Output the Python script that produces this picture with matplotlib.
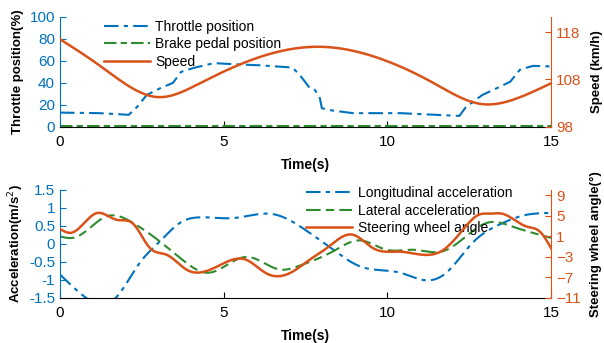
import numpy as np
import matplotlib.pyplot as plt

plt.rcParams['font.family'] = ['Liberation Sans', 'DejaVu Sans']

BLUE = '#0072BD'
ORANGE = '#D95319'
GREEN = '#2E8B2E'

# ---- top panel data ----
t_thr = [0, 1.2, 2.1, 2.35, 2.65, 3.05, 3.45, 3.7, 4.07, 4.7, 5.3, 6.1, 7.1, 7.33,
         7.64, 7.79, 7.94, 8.0, 8.3, 8.95, 10.4, 12.2, 12.4, 12.9, 13.4, 13.75,
         14.05, 14.45, 15]
throttle = [13, 12.5, 11, 18, 29, 35, 40, 50, 53.5, 58, 57, 56, 54, 47,
            35, 33.5, 26, 17, 15, 12.5, 12.5, 10, 18, 29, 36, 41,
            52, 55.5, 55]

t_brake = [0, 15]
brake = [1, 1]

t_spd = [0, 1.2, 2.2, 2.96, 4.3, 6.0, 7.95, 9.9, 11.4, 12.9, 13.95, 15]
speed = [116.5, 111, 106.2, 104.3, 107.3, 112.5, 114.9, 112.1, 107.3, 102.8, 104, 107.2]

# ---- bottom panel data ----
t_lon = [0, 0.8, 1.25, 1.7, 2.44, 3.05, 3.67, 4.28, 5.3, 6.5, 7.64, 8.35,
         9.16, 10.4, 11.2, 11.8, 12.6, 13.4, 14.25, 15]
lon_acc = [-0.85, -1.5, -1.7, -1.5, -0.52, 0.07, 0.59, 0.74, 0.72, 0.83, 0.3, -0.16,
           -0.62, -0.8, -1.01, -0.8, 0.03, 0.53, 0.81, 0.86]

t_lat = [0, 0.45, 1.43, 2.24, 3.05, 3.87, 4.5, 5.7, 6.72, 7.33, 8.35, 9.16, 9.97,
         10.8, 11.7, 12.4, 13.1, 13.8, 15]
lat_acc = [0.21, 0.18, 0.77, 0.58, 0.07, -0.53, -0.8, -0.36, -0.71, -0.6, -0.2, 0.1, -0.16,
           -0.16, -0.2, 0.21, 0.6, 0.49, 0.17]

t_str = [0, 0.36, 1.12, 1.73, 2.24, 2.75, 3.26, 3.87, 4.89, 5.7, 6.3, 7.1, 7.64,
         8.15, 8.95, 9.56, 10.4, 11.7, 12.3, 12.8, 13.15, 13.5, 14.25, 14.66, 15]
steer = [2.4, 1.7, 5.5, 4.2, 3.4, -1.3, -2.6, -5.5, -4.6, -3.6, -6.2, -5.9, -3.5,
         -1.3, 1.3, -1.3, -2.0, -1.7, 2.2, 5.2, 5.4, 5.4, 2.9, 1.9, -1.3]


def spline(t, v, n=500):
    # natural cubic spline through the read-off points
    t = np.asarray(t, float)
    v = np.asarray(v, float)
    k = len(t)
    h = np.diff(t)
    A = np.zeros((k, k))
    b = np.zeros(k)
    A[0, 0] = A[-1, -1] = 1
    for i in range(1, k - 1):
        A[i, i - 1] = h[i - 1]
        A[i, i] = 2 * (h[i - 1] + h[i])
        A[i, i + 1] = h[i]
        b[i] = 6 * ((v[i + 1] - v[i]) / h[i] - (v[i] - v[i - 1]) / h[i - 1])
    M = np.linalg.solve(A, b)
    tt = np.linspace(t[0], t[-1], n)
    i = np.clip(np.searchsorted(t, tt, side='right') - 1, 0, k - 2)
    a = t[i + 1] - tt
    c = tt - t[i]
    hi = h[i]
    out = (M[i] * a**3 / (6 * hi) + M[i + 1] * c**3 / (6 * hi)
           + (v[i] / hi - M[i] * hi / 6) * a + (v[i + 1] / hi - M[i + 1] * hi / 6) * c)
    return tt, out


def style_axes(ax, ax2, lcol, rcol):
    ax.spines['top'].set_visible(False)
    ax2.spines['top'].set_visible(False)
    ax.spines['left'].set_color(lcol)
    ax2.spines['left'].set_visible(False)
    ax2.spines['right'].set_color(rcol)
    ax.spines['right'].set_visible(False)
    ax2.spines['bottom'].set_visible(False)
    ax.tick_params(axis='y', direction='in', colors=lcol, labelsize=11, length=4)
    ax.tick_params(axis='x', direction='in', labelsize=11, length=4, pad=6)
    ax2.tick_params(axis='y', direction='in', colors=rcol, labelsize=11, length=4)
    ax.set_xlim(0, 15)
    ax.set_xticks([0, 5, 10, 15])


fig = plt.figure(figsize=(6.04, 3.43), dpi=100)

# top panel
ax1 = fig.add_axes([0.0993, 0.630, 0.813, 0.3207])
ax1b = ax1.twinx()
dashdot = (0, (7, 2.5, 2, 2.5))
l1, = ax1.plot(t_thr, throttle, color=BLUE, lw=1.5, ls=dashdot, label='Throttle position')
l2, = ax1.plot(t_brake, brake, color=GREEN, lw=1.5, ls=(0, (6, 2, 3, 2)), label='Brake pedal position')
l3, = ax1b.plot(*spline(t_spd, speed), color=ORANGE, lw=1.8, label='Speed')
ax1.set_ylim(0, 100)
ax1.set_yticks([0, 20, 40, 60, 80, 100])
ax1b.set_ylim(98, 121.2)
ax1b.set_yticks([98, 108, 118])
style_axes(ax1, ax1b, BLUE, ORANGE)
ax1.set_ylabel('Throttle position(%)', fontweight='bold', fontsize=9.5, color='black', labelpad=4)
ax1b.set_ylabel('Speed (km/h)', fontweight='bold', fontsize=9.5, labelpad=7)
ax1.set_xlabel('Time(s)', fontweight='bold', fontsize=10, labelpad=6)
ax1.legend(handles=[l1, l2, l3], loc='upper left', bbox_to_anchor=(0.078, 1.025),
           frameon=False, fontsize=10, handlelength=3.3, handletextpad=0.4,
           labelspacing=0.25, borderaxespad=0)

# bottom panel
ax2 = fig.add_axes([0.0993, 0.1312, 0.813, 0.315])
ax2b = ax2.twinx()
l4, = ax2.plot(*spline(t_lon, lon_acc), color=BLUE, lw=1.5, ls=dashdot, label='Longitudinal acceleration')
l5, = ax2.plot(*spline(t_lat, lat_acc), color=GREEN, lw=1.5, ls=(0, (7, 2.5, 4, 2.5)), label='Lateral acceleration')
l6, = ax2b.plot(*spline(t_str, steer), color=ORANGE, lw=1.8, label='Steering wheel angle')
ax2.set_ylim(-1.5, 1.5)
ax2.set_yticks([-1.5, -1, -0.5, 0, 0.5, 1, 1.5])
ax2.set_yticklabels(['-1.5', '-1', '-0.5', '0', '0.5', '1', '1.5'])
ax2b.set_ylim(-11, 10)
ax2b.set_yticks([-11, -7, -3, 1, 5, 9])
style_axes(ax2, ax2b, BLUE, ORANGE)
ax2.set_ylabel('Acceleration(m/s$^2$)', fontweight='bold', fontsize=9.5, color='black', labelpad=2)
ax2b.set_ylabel('Steering wheel angle(°)', fontweight='bold', fontsize=9.5, labelpad=7)
ax2.set_xlabel('Time(s)', fontweight='bold', fontsize=10, labelpad=6)
ax2.legend(handles=[l4, l5, l6], loc='upper left', bbox_to_anchor=(0.49, 1.085),
           frameon=False, fontsize=10, handlelength=3.3, handletextpad=0.4,
           labelspacing=0.25, borderaxespad=0)

fig.savefig('out.png', dpi=100)
